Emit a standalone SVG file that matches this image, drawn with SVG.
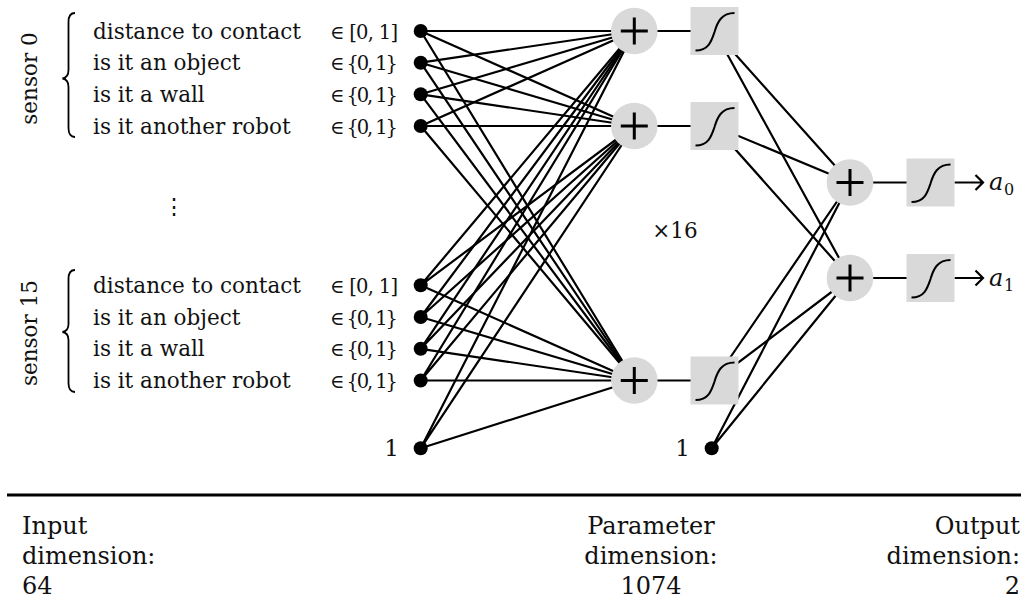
<svg xmlns="http://www.w3.org/2000/svg" width="1027" height="604" viewBox="0 0 1027 604">
<style>
text{font-family:"DejaVu Serif","Liberation Serif",serif;fill:#111}
.lbl{font-size:21.5px}
.set{font-size:19.5px}
.bot{font-size:24px}
.c{stroke:#000;stroke-width:2.2;fill:none}
.dot{fill:#000}
.sum{fill:#d9d9d9}
.plus{stroke:#000;stroke-width:3;fill:none}
.box{fill:#d9d9d9}
.sig{stroke:#000;stroke-width:2;fill:none}
.brace{stroke:#000;stroke-width:1.8;fill:none}
</style>
<defs>
<g id="sumShape"><circle class="sum" r="23.3"/><path class="plus" d="M-13.5,0H13.5M0,-13.5V13.5"/></g>
<g id="sigShape"><rect class="box" x="-24" y="-24" width="48" height="48"/><path class="sig" d="M-19,19.5C-6,19.5 -3,10 0,1C3,-9 7,-18 20,-18"/></g>
</defs>
<g id="connectors">
<path class="c" d="M420.7,31L634.3,31M420.7,31L634.3,126M420.7,31L634.3,380.5"/>
<path class="c" d="M420.7,62.7L634.3,31M420.7,62.7L634.3,126M420.7,62.7L634.3,380.5"/>
<path class="c" d="M420.7,94.3L634.3,31M420.7,94.3L634.3,126M420.7,94.3L634.3,380.5"/>
<path class="c" d="M420.7,126L634.3,31M420.7,126L634.3,126M420.7,126L634.3,380.5"/>
<path class="c" d="M420.7,285.3L634.3,31M420.7,285.3L634.3,126M420.7,285.3L634.3,380.5"/>
<path class="c" d="M420.7,317L634.3,31M420.7,317L634.3,126M420.7,317L634.3,380.5"/>
<path class="c" d="M420.7,348.8L634.3,31M420.7,348.8L634.3,126M420.7,348.8L634.3,380.5"/>
<path class="c" d="M420.7,380.5L634.3,31M420.7,380.5L634.3,126M420.7,380.5L634.3,380.5"/>
<path class="c" d="M420.7,448.3L634.3,31M420.7,448.3L634.3,126M420.7,448.3L634.3,380.5"/>
<path class="c" d="M657,31H691M657,126H691M657,380.5H691"/>
<path class="c" d="M714.5,31L850,182.5M714.5,31L850,278"/>
<path class="c" d="M714.5,126L850,182.5M714.5,126L850,278"/>
<path class="c" d="M714.5,380.5L850,182.5M714.5,380.5L850,278"/>
<path class="c" d="M711.7,448.3L850,182.5M711.7,448.3L850,278"/>
<path class="c" d="M873,182.5H907M873,278H907"/>
<path class="c" d="M954.5,182.5H983M975.5,175L983,182.5L975.5,190"/>
<path class="c" d="M954.5,278H983M975.5,270.5L983,278L975.5,285.5"/>
</g>
<g id="sensor0">
<text class="lbl" transform="translate(37,78.5) rotate(-90)" text-anchor="middle">sensor 0</text>
<path class="brace" d="M75,13Q68.5,13 68.5,22L68.5,70Q68.5,77.5 62.5,78.5Q68.5,79.5 68.5,87L68.5,128Q68.5,137 75,137"/>
<text class="lbl" x="93" y="38.5">distance to contact</text>
<text class="lbl" x="93" y="70.2">is it an object</text>
<text class="lbl" x="93" y="101.8">is it a wall</text>
<text class="lbl" x="93" y="133.5">is it another robot</text>
<text class="set" x="330" y="38.5" textLength="68" lengthAdjust="spacing">∈ [0, 1]</text>
<text class="set" x="330" y="70.2" textLength="68" lengthAdjust="spacing">∈ {0, 1}</text>
<text class="set" x="330" y="101.8" textLength="68" lengthAdjust="spacing">∈ {0, 1}</text>
<text class="set" x="330" y="133.5" textLength="68" lengthAdjust="spacing">∈ {0, 1}</text>
</g>
<g id="ellipsis"><text class="lbl" x="174" y="214" text-anchor="middle">⋮</text></g>
<g id="sensor15">
<text class="lbl" transform="translate(37,333) rotate(-90)" text-anchor="middle">sensor 15</text>
<path class="brace" d="M75,270Q68.5,270 68.5,279L68.5,324Q68.5,331 62.5,332Q68.5,333 68.5,340L68.5,383Q68.5,392 75,392"/>
<text class="lbl" x="93" y="292.8">distance to contact</text>
<text class="lbl" x="93" y="324.5">is it an object</text>
<text class="lbl" x="93" y="356.3">is it a wall</text>
<text class="lbl" x="93" y="388">is it another robot</text>
<text class="set" x="330" y="292.8" textLength="68" lengthAdjust="spacing">∈ [0, 1]</text>
<text class="set" x="330" y="324.5" textLength="68" lengthAdjust="spacing">∈ {0, 1}</text>
<text class="set" x="330" y="356.3" textLength="68" lengthAdjust="spacing">∈ {0, 1}</text>
<text class="set" x="330" y="388" textLength="68" lengthAdjust="spacing">∈ {0, 1}</text>
</g>
<g id="inputs">
<circle class="dot" cx="420.7" cy="31" r="7"/>
<circle class="dot" cx="420.7" cy="62.7" r="7"/>
<circle class="dot" cx="420.7" cy="94.3" r="7"/>
<circle class="dot" cx="420.7" cy="126" r="7"/>
<circle class="dot" cx="420.7" cy="285.3" r="7"/>
<circle class="dot" cx="420.7" cy="317" r="7"/>
<circle class="dot" cx="420.7" cy="348.8" r="7"/>
<circle class="dot" cx="420.7" cy="380.5" r="7"/>
</g>
<g id="bias1"><circle class="dot" cx="420.7" cy="448.3" r="7"/><text class="lbl" x="399" y="456" text-anchor="end" style="font-size:23px">1</text></g>
<g id="hsum1"><use href="#sumShape" x="634.3" y="31"/></g>
<g id="hsum2"><use href="#sumShape" x="634.3" y="126"/></g>
<g id="hsum3"><use href="#sumShape" x="634.3" y="380.5"/></g>
<g id="hsig1"><use href="#sigShape" x="714.5" y="31"/></g>
<g id="hsig2"><use href="#sigShape" x="714.5" y="126"/></g>
<g id="hsig3"><use href="#sigShape" x="714.5" y="380.5"/></g>
<g id="times16"><text class="lbl" x="675" y="238" text-anchor="middle">×16</text></g>
<g id="bias2"><circle class="dot" cx="711.7" cy="448.3" r="7"/><text class="lbl" x="690" y="456" text-anchor="end" style="font-size:23px">1</text></g>
<g id="osum1"><use href="#sumShape" x="850" y="182.5"/></g>
<g id="osum2"><use href="#sumShape" x="850" y="278"/></g>
<g id="osig1"><use href="#sigShape" x="930.5" y="182.5"/></g>
<g id="osig2"><use href="#sigShape" x="930.5" y="278"/></g>
<g id="out0"><text x="989" y="190" style="font-size:24px;font-style:italic">a</text><text x="1004" y="195" style="font-size:16px">0</text></g>
<g id="out1"><text x="989" y="285.5" style="font-size:24px;font-style:italic">a</text><text x="1004" y="290.5" style="font-size:16px">1</text></g>
<g id="footer">
<path d="M7,495H1021" stroke="#000" stroke-width="3"/>
<text class="bot" x="22" y="534">Input</text>
<text class="bot" x="22" y="564">dimension:</text>
<text class="bot" x="22" y="594">64</text>
<text class="bot" x="651" y="534" text-anchor="middle">Parameter</text>
<text class="bot" x="651" y="564" text-anchor="middle">dimension:</text>
<text class="bot" x="651" y="594" text-anchor="middle">1074</text>
<text class="bot" x="1020" y="534" text-anchor="end">Output</text>
<text class="bot" x="1020" y="564" text-anchor="end">dimension:</text>
<text class="bot" x="1020" y="594" text-anchor="end">2</text>
</g>
</svg>
